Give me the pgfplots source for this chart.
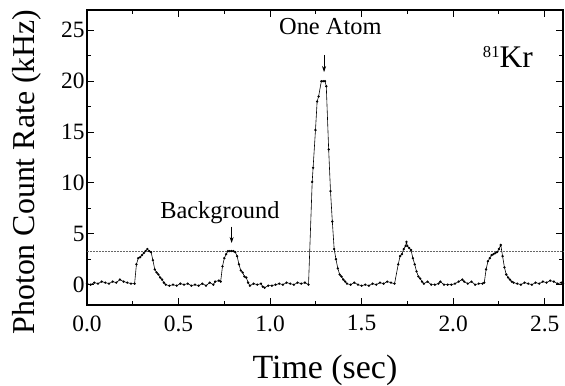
\documentclass[border=0pt]{standalone}
\usepackage{fontspec}
\setmainfont{Liberation Serif}
\usepackage{pgfplots}
\pgfplotsset{compat=1.18}
\usetikzlibrary{arrows.meta}
\begin{document}
\begin{tikzpicture}
\useasboundingbox (-87bp,-81bp) rectangle (478bp,305bp);
\begin{axis}[
  at={(0,0)}, anchor=south west,
  scale only axis, width=476bp, height=295bp,
  xmin=0, xmax=2.6, ymin=-2, ymax=27,
  xtick={0,0.5,1,1.5,2,2.5}, ytick={0,5,10,15,20,25},
  minor x tick num=1, minor y tick num=1,
  tick align=inside,
  major tick length=7bp, minor tick length=4bp,
  axis line style={line width=1.1bp},
  every tick/.style={line width=0.9bp, black},
  /pgf/number format/assume math mode=true,
  x tick label style={yshift=-7bp},
  xticklabel={\pgfmathprintnumber[fixed, fixed zerofill, precision=1]{\tick}},
  yticklabel style={xshift=1bp},
  ticklabel style={font=\fontsize{23.5}{26}\selectfont},
  xlabel={Time (sec)},
  ylabel={Photon Count Rate (kHz)},
  xlabel style={font=\fontsize{34}{38}\selectfont, at={(axis description cs:0.5,0)}, anchor=base, yshift=-73bp},
  ylabel style={font=\fontsize{32}{36}\selectfont, at={(axis description cs:-0.126,0.451)}, anchor=center},
  clip=false,
]
\addplot[densely dotted, black!60, line width=0.5bp] coordinates {(0,3.3) (2.6,3.3)};
\addplot[black, line width=0.6bp, mark=*, mark size=0.85bp] coordinates {
(0.00,0.1) (0.02,0.0) (0.04,0.2) (0.06,0.1) (0.08,0.3) (0.10,0.2) (0.12,0.1) (0.14,0.3) (0.16,0.2) (0.18,0.5) (0.20,0.3) (0.22,0.2) (0.24,0.1) (0.26,0.1)
(0.27,2.0) (0.28,2.6) (0.29,2.7) (0.30,2.9) (0.31,3.1) (0.32,3.3) (0.33,3.5) (0.34,3.3) (0.35,3.2) (0.36,2.4) (0.37,1.5) (0.38,1.2) (0.39,1.0) (0.40,0.7) (0.41,0.5) (0.42,0.2) (0.43,0.0)
(0.45,-0.1) (0.47,0.0) (0.49,-0.1) (0.51,0.1) (0.53,0.0) (0.55,0.1) (0.57,-0.1) (0.59,0.0) (0.61,-0.1) (0.63,0.1) (0.65,-0.1) (0.67,0.2) (0.69,0.0) (0.70,0.3) (0.72,0.4)
(0.73,0.3) (0.74,1.8) (0.75,2.6) (0.76,3.0) (0.77,3.3) (0.78,3.3) (0.79,3.3) (0.80,3.3) (0.81,3.2) (0.82,2.8) (0.83,2.0) (0.84,1.4) (0.85,1.2) (0.86,0.8) (0.87,0.7) (0.88,0.2) (0.89,-0.1)
(0.91,0.1) (0.93,0.0) (0.95,0.1) (0.96,-0.2) (0.97,-0.3) (0.99,-0.1) (1.01,-0.1) (1.03,0.0) (1.05,0.1) (1.07,0.0) (1.09,0.2) (1.11,0.1) (1.13,0.0) (1.15,0.2) (1.17,0.1) (1.19,0.2) (1.21,0.0)
(1.23,10.1) (1.235,11.5) (1.248,15.2) (1.257,18.0) (1.265,18.5) (1.28,20.0) (1.29,20.0) (1.30,20.0) (1.307,19.5) (1.32,13.3) (1.33,9.2) (1.34,6.2) (1.35,3.5) (1.36,2.5) (1.37,1.6) (1.38,1.0) (1.39,0.8) (1.40,0.5) (1.41,0.3) (1.42,0.1)
(1.44,0.0) (1.46,0.2) (1.48,0.0) (1.50,-0.1) (1.52,0.0) (1.54,-0.1) (1.56,0.1) (1.58,0.0) (1.60,0.2) (1.62,0.1) (1.64,0.3) (1.66,0.2) (1.68,0.1)
(1.70,2.0) (1.71,2.8) (1.72,3.0) (1.73,3.5) (1.74,3.8) (1.745,4.2) (1.75,3.8) (1.76,3.6) (1.77,3.4) (1.78,2.6) (1.79,2.0) (1.80,1.3) (1.81,0.8) (1.82,0.6) (1.83,0.3) (1.84,0.1)
(1.86,0.3) (1.88,0.0) (1.90,0.0) (1.92,0.1) (1.93,0.3) (1.95,0.0) (1.97,0.0) (1.99,0.0) (2.01,0.1) (2.03,0.3) (2.05,0.5) (2.06,0.3) (2.08,0.1) (2.10,0.3) (2.12,0.0) (2.14,0.1) (2.16,0.1)
(2.17,0.2) (2.18,1.5) (2.19,2.3) (2.20,2.6) (2.21,2.9) (2.22,3.0) (2.23,3.1) (2.24,3.2) (2.25,3.5) (2.26,3.9) (2.27,2.8) (2.28,1.7) (2.29,1.0) (2.30,0.7) (2.31,0.5) (2.32,0.3) (2.33,0.2)
(2.35,0.1) (2.37,0.0) (2.39,0.2) (2.41,0.1) (2.43,0.0) (2.45,0.2) (2.47,0.1) (2.49,0.3) (2.51,0.2) (2.53,0.4) (2.55,0.3) (2.57,0.1) (2.59,0.2) (2.60,0.1)
};
\node[anchor=base, font=\fontsize{24.5}{27}\selectfont] at (axis cs:1.329,24.56) {One Atom};
\node[anchor=base, font=\fontsize{24.5}{27}\selectfont] at (axis cs:0.726,6.55) {Background};
\node[anchor=base, inner sep=0pt] at (axis cs:2.299,21.3) {\raisebox{1.05em}{\fontsize{16.7}{18}\selectfont 81}\fontsize{31.6}{34}\selectfont Kr};
\draw[-{Stealth[length=6bp,width=4bp]}, line width=0.8bp] (axis cs:1.295,22.6) -- (axis cs:1.295,20.9);
\draw[-{Stealth[length=6bp,width=4bp]}, line width=0.8bp] (axis cs:0.79,5.7) -- (axis cs:0.79,4.1);
\end{axis}
\end{tikzpicture}
\end{document}
